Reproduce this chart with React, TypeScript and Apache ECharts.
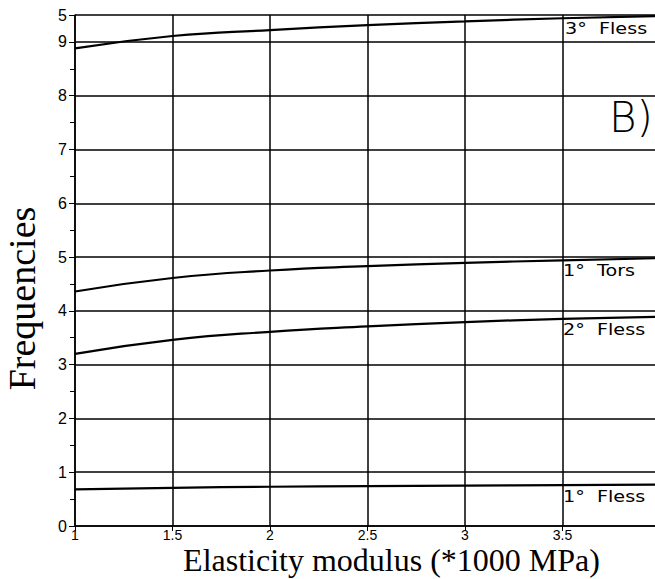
import React, { useEffect, useRef } from "react";
import * as echarts from "echarts";

const xValues = [1, 1.5, 2, 2.5, 3, 3.5, 4];
const flex3 = [8.88, 9.11, 9.22, 9.31, 9.38, 9.44, 9.48];
const tors1 = [4.36, 4.61, 4.75, 4.83, 4.89, 4.94, 4.98];
const flex2 = [3.2, 3.46, 3.61, 3.71, 3.79, 3.85, 3.89];
const flex1 = [0.68, 0.71, 0.73, 0.74, 0.75, 0.76, 0.77];
const seriesNames = ["3° Fless", "1° Tors", "2° Fless", "1° Fless"];
const xTickLabels = ["1", "1.5", "2", "2.5", "3", "3.5"];

const pair = (ys: number[]) => xValues.map((x, i) => [x, ys[i]]);

export default function App() {
  const ref = useRef<HTMLDivElement>(null);
  useEffect(() => {
    if (!ref.current) return;
    const chart = echarts.init(ref.current, null, { renderer: "svg" });
    const lineSeries = (name: string, ys: number[]) => ({
      name,
      type: "line",
      data: pair(ys),
      smooth: true,
      showSymbol: false,
      lineStyle: { color: "#000", width: 2.2 },
    });
    const labelStyle = {
      fill: "#000",
      font: '15px "DejaVu Sans", sans-serif',
    };
    const seriesLabel = (text: string, left: number, top: number) => ({
      type: "text",
      left,
      top,
      scaleX: 1.28,
      style: { ...labelStyle, text },
    });
    chart.setOption({
      animation: false,
      backgroundColor: "#fff",
      grid: {
        left: 75,
        right: -5,
        top: 15,
        bottom: 53,
        containLabel: false,
        outerBoundsMode: "none",
      },
      xAxis: {
        type: "value",
        min: 1,
        max: 4,
        interval: 0.5,
        name: "Elasticity modulus (*1000 MPa)",
        nameLocation: "middle",
        nameGap: 18,
        nameMoveOverlap: false,
        nameTextStyle: {
          color: "#000",
          fontFamily: '"Liberation Serif", serif',
          fontSize: 32,
          padding: [0, 0, 0, 48],
        },
        axisLine: { lineStyle: { color: "#000", width: 1.5 } },
        axisTick: { show: true, length: 5, lineStyle: { color: "#000" } },
        axisLabel: {
          color: "#000",
          fontFamily: '"Liberation Sans", sans-serif',
          fontSize: 14,
          margin: 2,
          formatter: (v: number) => {
            const s = String(v);
            return xTickLabels.includes(s) ? s : "";
          },
        },
        splitLine: { show: true, lineStyle: { color: "#000", width: 1.5 } },
      },
      yAxis: {
        type: "value",
        min: 0,
        max: 9.5,
        interval: 1,
        name: "Frequencies",
        nameLocation: "middle",
        nameGap: 34,
        nameMoveOverlap: false,
        nameTextStyle: {
          color: "#000",
          fontFamily: '"Liberation Serif", serif',
          fontSize: 38,
          padding: [0, 56, 0, 0],
        },
        axisLine: { lineStyle: { color: "#000", width: 1.5 } },
        axisTick: { show: true, length: 6, lineStyle: { color: "#000" } },
        minorTick: { show: true, splitNumber: 2, length: 5, lineStyle: { color: "#000" } },
        axisLabel: {
          color: "#000",
          fontFamily: '"Liberation Sans", sans-serif',
          fontSize: 16,
          margin: 8,
          formatter: (v: number) => (Math.abs(v - 9.5) < 1e-6 ? "5" : String(v)),
        },
        splitLine: { show: true, lineStyle: { color: "#000", width: 1.5 } },
      },
      series: [
        lineSeries(seriesNames[0], flex3),
        lineSeries(seriesNames[1], tors1),
        lineSeries(seriesNames[2], flex2),
        lineSeries(seriesNames[3], flex1),
      ],
      graphic: [
        seriesLabel("3°  Fless", 565, 21),
        seriesLabel("1°  Tors", 563, 263),
        seriesLabel("2°  Fless", 563, 322),
        seriesLabel("1°  Fless", 563, 489),
        {
          type: "text",
          left: 609,
          top: 96,
          style: { fill: "#000", font: '300 42px "DejaVu Sans", sans-serif', text: "B)" },
        },
      ],
    });
    return () => chart.dispose();
  }, []);
  return (
    <div
      style={{
        position: "absolute",
        left: 0,
        top: 0,
        width: 655,
        height: 579,
        overflow: "hidden",
      }}
    >
      <div ref={ref} style={{ width: 655, height: 579 }} />
    </div>
  );
}
